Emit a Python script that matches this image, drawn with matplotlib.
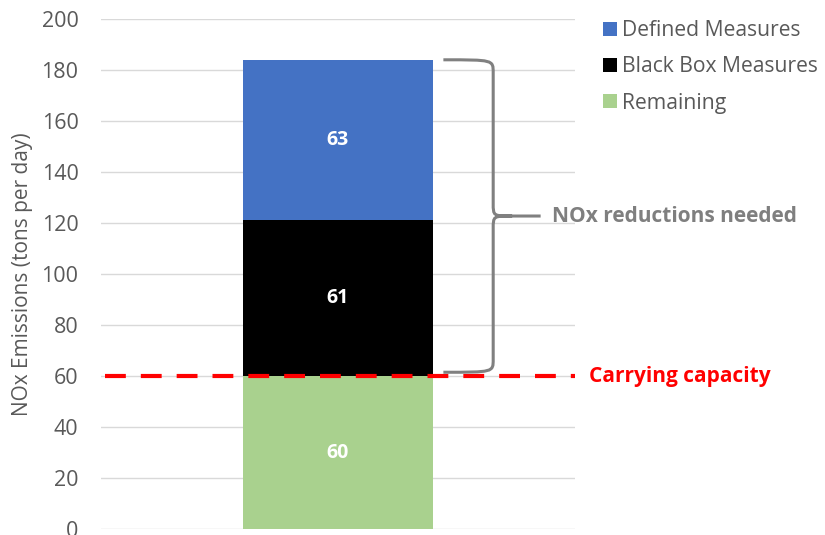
import matplotlib.pyplot as plt
import numpy as np
from matplotlib.path import Path
from matplotlib.patches import PathPatch

plt.rcParams["font.family"] = ["Open Sans", "DejaVu Sans"]

# stacked segments, bottom to top
segments = ["Remaining", "Black Box Measures", "Defined Measures"]
values = [60, 61, 63]
colors = ["#A9D18E", "#000000", "#4472C4"]
carrying_capacity = 60
yticks = list(range(0, 201, 20))

GRAY = "#595959"

fig = plt.figure(figsize=(8.25, 5.35), dpi=100)
ax = fig.add_axes([0.122, 0.011, 0.575, 0.9535])

bottoms = np.concatenate([[0], np.cumsum(values)[:-1]])
handles = []
for name, val, bot, col in zip(segments, values, bottoms, colors):
    b = ax.bar(0, val, bottom=bot, width=0.8, color=col, label=name, zorder=3)
    handles.append(b)
    ax.text(0, bot + val / 2, f"{val}", ha="center", va="center",
            color="white", fontsize=14, fontweight="bold", zorder=4)

ax.set_xlim(-1, 1)
ax.set_ylim(0, 200)
ax.set_yticks(yticks)
ax.set_xticks([])
ax.tick_params(axis="y", length=0, pad=16, labelsize=15.5, labelcolor=GRAY)
ax.grid(axis="y", color="#D9D9D9", linewidth=1, zorder=0)
for s in ax.spines.values():
    s.set_visible(False)
ax.set_ylabel("NOx Emissions (tons per day)", fontsize=15, color=GRAY, labelpad=6)

# carrying capacity line
ax.plot([-0.98, 1.0], [carrying_capacity, carrying_capacity], color="#FF0000",
        linewidth=3, dashes=(5, 3.6), zorder=5, clip_on=False)
ax.text(1.06, carrying_capacity, "Carrying capacity", color="#FF0000",
        fontsize=15, fontweight="bold", va="center", ha="left", clip_on=False)

# curly brace over the reductions (black box + defined measures)
top = sum(values)
low = carrying_capacity + 1.5
mid = (top + low) / 2
x0, x1, x2 = 0.445, 0.655, 0.855
r = 5
verts = [
    (x0, top), (x1, top), (x1, top), (x1, top - r),
    (x1, mid + r), (x1, mid), (x1, mid), (x1 + 0.08, mid),
    (x2, mid),
    (x1 + 0.08, mid), (x1, mid), (x1, mid), (x1, mid - r),
    (x1, low + r), (x1, low), (x1, low), (x0, low),
]
codes = [Path.MOVETO, Path.CURVE4, Path.CURVE4, Path.CURVE4,
         Path.LINETO, Path.CURVE4, Path.CURVE4, Path.CURVE4,
         Path.LINETO,
         Path.MOVETO, Path.CURVE4, Path.CURVE4, Path.CURVE4,
         Path.LINETO, Path.CURVE4, Path.CURVE4, Path.CURVE4]
ax.add_patch(PathPatch(Path(verts, codes), fill=False, edgecolor="#808080",
                       linewidth=2.2, zorder=5, clip_on=False))
ax.text(x2 + 0.05, mid, "NOx reductions needed", color="#7F7F7F",
        fontsize=15, fontweight="bold", va="center", ha="left", clip_on=False)

fig.legend(handles[::-1], segments[::-1], loc="upper left",
           bbox_to_anchor=(0.713, 0.99), frameon=False, fontsize=15.2,
           labelcolor=GRAY, handlelength=0.65, handleheight=0.65,
           handletextpad=0.25, labelspacing=0.72, borderaxespad=0.3)

fig.savefig("out.png", dpi=100)
